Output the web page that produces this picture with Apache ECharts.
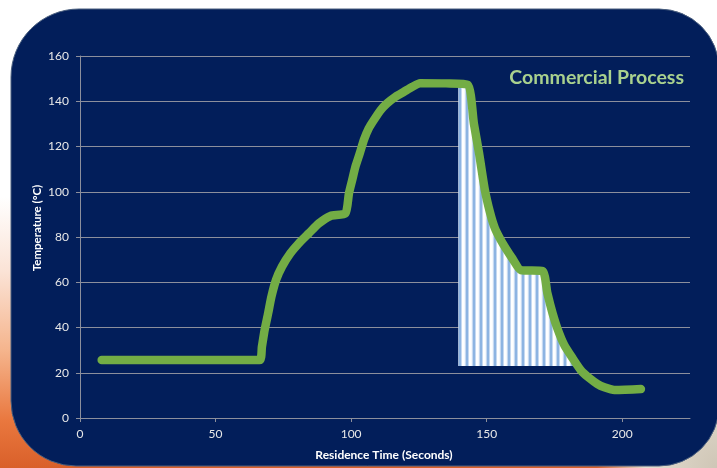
<!DOCTYPE html>
<html>
<head>
<meta charset="utf-8">
<script src="https://cdn.jsdelivr.net/npm/echarts@6/dist/echarts.min.js"></script>
<style>
  html, body { margin: 0; padding: 0; }
  body {
    width: 717px; height: 468px; overflow: hidden;
    background:
      radial-gradient(ellipse 120px 140px at 717px 468px, #cfc6b6 0%, #e4ddd0 60%, rgba(255,255,255,0) 100%),
      linear-gradient(to bottom, #ffffff 0%, #ffffff 42%, #fbe3d6 58%, #f5b48c 75%, #e9773e 90%, #d9602a 100%);
  }
  #chart { width: 717px; height: 468px; }
</style>
</head>
<body>
<div id="chart"></div>
<script>
// ---- data ----
const xTicks = [0, 50, 100, 150, 200];
const yTicks = [0, 20, 40, 60, 80, 100, 120, 140, 160];
const timeSec = [8, 66.2, 67.1, 68.1, 69.4, 70.6, 72.3, 74.5, 77.6, 80.7, 84.4, 88.1, 92.4, 97.9,
                 99.2, 100.4, 101.6, 103.2, 104.7, 106.5, 108.4, 110.9, 113.3, 116.4, 119.5, 122.6, 125.4,
                 135, 143, 145.3, 147.2, 149.3, 151.2, 153, 155.2, 157.3, 159.5, 162.6, 170.6,
                 172.4, 174.3, 176.1, 178.6, 181.7, 184.8, 187.5, 190.9, 193.4, 197.1, 201, 206.9];
const tempC   = [25.6, 25.6, 31.5, 38.9, 46.3, 53.6, 61, 66.9, 72.8, 77.2, 81.6, 86, 89.3, 90.5,
                 99.3, 105.2, 111.1, 117, 122.9, 128, 131.7, 136.1, 139.1, 142, 144.2, 146.4, 148,
                 147.9, 147.3, 130, 117, 101, 91, 84, 78.7, 74.5, 70.5, 65.4, 65,
                 55.1, 46.3, 39.5, 32.3, 26.4, 21, 18, 15, 13.6, 12.4, 12.5, 12.8];
const shadeTime = [139.5, 143, 145.3, 147.2, 149.3, 151.2, 153, 155.2, 157.3, 159.5, 162.6, 170.6, 172.4, 174.3, 176.1, 178.6, 181.7, 183.2];
const shadeTemp = [147.5, 147.3, 130, 117, 101, 91, 84, 78.7, 74.5, 70.5, 65.4, 65, 55.1, 46.3, 39.5, 32.3, 26.4, 23];
const shadeBase = 23;
const titleText = 'Commercial Process';
const xTitle = 'Residence Time (Seconds)';
const yTitle = 'Temperature (°C)';

// ---- build ----
const curve = timeSec.map((t, i) => [t, tempC[i]]);
const shade = shadeTime.map((t, i) => [t, shadeTemp[i]]);

const pat = document.createElement('canvas');
pat.width = 7; pat.height = 4;
const pc = pat.getContext('2d');
const cols = ['#ffffff', '#ffffff', '#f4f8fd', '#c6d9f1', '#8db4e2', '#8db4e2', '#c6d9f1'];
cols.forEach((c, i) => { pc.fillStyle = c; pc.fillRect(i, 0, 1, 4); });

const chart = echarts.init(document.getElementById('chart'), null, { renderer: 'canvas' });
const labelColor = '#e8e8e8';
const lineColor = '#8c8f9c';
const font = 'Lato, "Open Sans", sans-serif';

chart.setOption({
  backgroundColor: 'transparent',
  animation: false,
  graphic: [
    {
      type: 'rect', z: -10, silent: true,
      shape: { x: 11, y: 9, width: 708, height: 457, r: [68, 60, 60, 65] },
      style: { fill: '#021e5a', stroke: '#4a5f7e', lineWidth: 1 }
    },
    {
      type: 'text', x: 684, y: 78, z: 10,
      style: { text: titleText, fill: '#a9d18e', font: 'bold 19.5px ' + font, align: 'right', verticalAlign: 'middle' }
    },
    {
      type: 'text', x: 384, y: 455, z: 10,
      style: { text: xTitle, fill: '#ffffff', font: 'bold 12px ' + font, align: 'center', verticalAlign: 'middle' }
    },
    {
      type: 'text', x: 37, y: 228, rotation: Math.PI / 2, z: 10,
      style: { text: yTitle, fill: '#ffffff', font: 'bold 11.5px ' + font, align: 'center', verticalAlign: 'middle' }
    }
  ],
  grid: { left: 80, right: 27, top: 56, bottom: 50, containLabel: false },
  xAxis: {
    type: 'value', min: 0, max: 225, interval: 50,
    axisLine: { show: true, lineStyle: { color: lineColor, width: 1 } },
    axisTick: { show: true, length: 4, customValues: xTicks, lineStyle: { color: lineColor } },
    axisLabel: { customValues: xTicks, color: labelColor, fontSize: 12, fontFamily: font, margin: 10 },
    splitLine: { show: false }
  },
  yAxis: {
    type: 'value', min: 0, max: 160, interval: 20,
    axisLine: { show: true, lineStyle: { color: lineColor, width: 1 } },
    axisTick: { show: true, length: 4, lineStyle: { color: lineColor } },
    axisLabel: { color: labelColor, fontSize: 12, fontFamily: font, margin: 11 },
    splitLine: { show: true, lineStyle: { color: lineColor, width: 1 } }
  },
  series: [
    {
      type: 'line', data: shade, showSymbol: false, z: 2, smooth: 0.2,
      lineStyle: { width: 0 },
      areaStyle: { origin: shadeBase, color: { image: pat, repeat: 'repeat' }, opacity: 1 },
      silent: true
    },
    {
      type: 'line', data: curve, showSymbol: false, z: 3, smooth: 0.2,
      lineStyle: { color: '#73ad45', width: 8.5, cap: 'round', join: 'round' }
    }
  ]
});
</script>
</body>
</html>
